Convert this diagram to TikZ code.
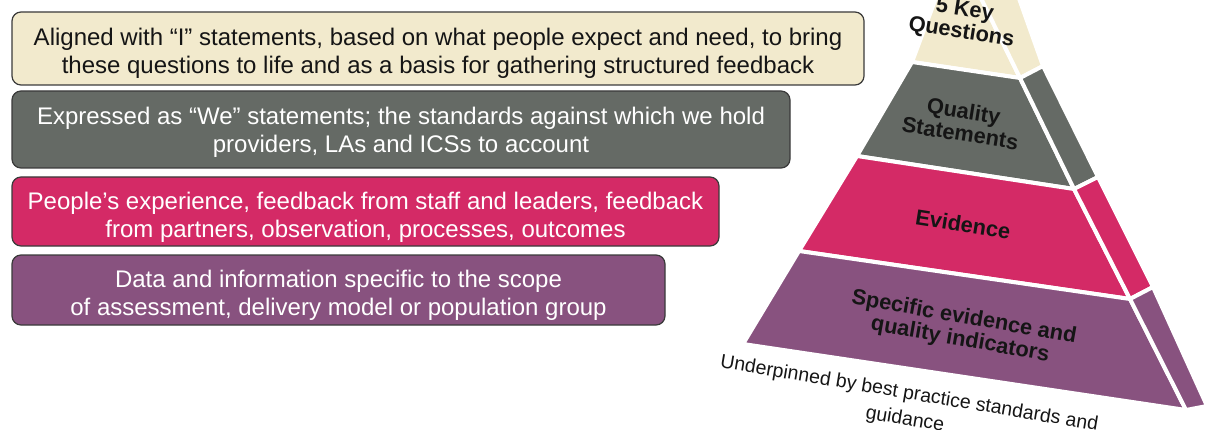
\documentclass[tikz,border=0pt]{standalone}
\usepackage{fontspec}
\setmainfont{Liberation Sans}
\definecolor{tierCream}{HTML}{F2EACD}
\definecolor{tierGray}{HTML}{656A65}
\definecolor{tierPink}{HTML}{D42A66}
\definecolor{tierPurple}{HTML}{88527F}
\definecolor{boxEdge}{HTML}{3A3A3A}
\definecolor{inkDark}{HTML}{151515}
% invisible strut that lowers the first line of a box a little
\newcommand{\leadstrut}[1]{\rule{0pt}{#1}}

\begin{document}
\begin{tikzpicture}[x=1pt,y=-1pt,
  infobox/.style={draw=boxEdge, line width=1.2pt, rounded corners=9pt, align=center,
    inner sep=0pt, font=\fontsize{24}{28}\selectfont},
  face/.style={draw=white, line width=4pt, line join=round},
  tierlabel/.style={align=center, inner sep=0pt, text=inkDark,
    font=\bfseries\fontsize{21.8}{22.5}\selectfont},
]
\clip (0,0) rectangle (1206,430);

% descriptive boxes on the left
\node[infobox, fill=tierCream, text=inkDark, minimum width=852pt, minimum height=73pt] (b1) at (438,48.5)
  {\leadstrut{27pt}Aligned with “I” statements, based on what people expect and need, to bring\\these questions to life and as a basis for gathering structured feedback};
\node[infobox, fill=tierGray, text=white, minimum width=778pt, minimum height=77pt] (b2) at (401,129.5)
  {\leadstrut{23.5pt}Expressed as “We” statements; the standards against which we hold\\providers, LAs and ICSs to account};
\node[infobox, fill=tierPink, text=white, minimum width=707pt, minimum height=69pt] (b3) at (365.5,211.5)
  {\leadstrut{29pt}People’s experience, feedback from staff and leaders, feedback\\from partners, observation, processes, outcomes};
\node[infobox, fill=tierPurple, text=white, minimum width=653pt, minimum height=70pt] (b4) at (338.5,290)
  {\leadstrut{27.5pt}Data and information specific to the scope\\of assessment, delivery model or population group};

% pyramid corner points: left edge, front/side ridge, outer side edge
\coordinate (L0) at (939,-10);  \coordinate (R0) at (977,-10);  \coordinate (O0) at (1016,-10);
\coordinate (L1) at (912,62);   \coordinate (R1) at (1020,78);  \coordinate (O1) at (1043,66);
\coordinate (L2) at (857,156);  \coordinate (R2) at (1074,189); \coordinate (O2) at (1098,177);
\coordinate (L3) at (799,251);  \coordinate (R3) at (1130,299); \coordinate (O3) at (1153,287);
\coordinate (L4) at (743,344);  \coordinate (R4) at (1186,410); \coordinate (O4) at (1207,406);

% pyramid tiers: front face and side face of each
\filldraw[face, fill=tierCream]  (L0)--(R0)--(R1)--(L1)--cycle;
\filldraw[face, fill=tierCream]  (R0)--(O0)--(O1)--(R1)--cycle;
\filldraw[face, fill=tierGray]   (L1)--(R1)--(R2)--(L2)--cycle;
\filldraw[face, fill=tierGray]   (R1)--(O1)--(O2)--(R2)--cycle;
\filldraw[face, fill=tierPink]   (L2)--(R2)--(R3)--(L3)--cycle;
\filldraw[face, fill=tierPink]   (R2)--(O2)--(O3)--(R3)--cycle;
\filldraw[face, fill=tierPurple] (L3)--(R3)--(R4)--(L4)--cycle;
\filldraw[face, fill=tierPurple] (R3)--(O3)--(O4)--(R4)--cycle;

% tier labels
\node[tierlabel, rotate=-9] (t1) at (963,22) {5 Key\\Questions};
\node[tierlabel, rotate=-9] (t2) at (962,122) {Quality\\Statements};
\node[tierlabel, rotate=-9] (t3) at (963,224) {Evidence};
\node[tierlabel, rotate=-10] (t4) at (962,329) {Specific evidence and\\quality indicators};

% caption under the pyramid
\node[align=center, inner sep=0pt, text=inkDark, rotate=-9.5,
  font=\fontsize{19.5}{26}\selectfont] (base) at (907,407)
  {Underpinned by best practice standards and\\guidance};
\end{tikzpicture}
\end{document}
